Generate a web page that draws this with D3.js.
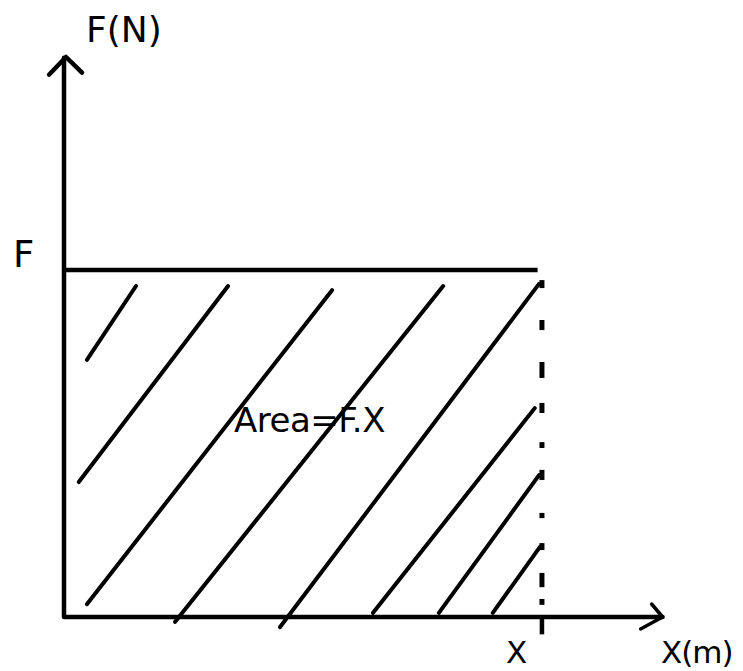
<!DOCTYPE html>
<html>
<head>
<meta charset="utf-8">
<script src="https://cdn.jsdelivr.net/npm/d3@7"></script>
<style>
  html, body { margin: 0; padding: 0; background: #fff; }
  text { font-family: "DejaVu Sans", sans-serif; fill: #000; }
</style>
</head>
<body>
<svg id="chart" width="743" height="671"></svg>
<script>
// Work-done diagram: constant force F over a displacement X.
// Units are chosen so that F = 1 and X = 1.
var forceValue = 1,
    displacement = 1;

// Hatch strokes inside the area, [x1, y1, x2, y2] in data units
var hatchX1 = [0.048, 0.031, 0.048, 0.233, 0.453, 0.648, 0.786, 0.899];
var hatchY1 = [0.741, 0.389, 0.037, -0.014, -0.029, 0.012, 0.012, 0.012];
var hatchX2 = [0.151, 0.344, 0.562, 0.795, 0.996, 0.987, 0.996, 0.998];
var hatchY2 = [0.954, 0.954, 0.942, 0.954, 0.960, 0.602, 0.409, 0.202];

// Dashes of the dotted line at x = X, [top, bottom] in data units
var dashTop = [0.971, 0.856, 0.735, 0.617, 0.504, 0.424, 0.300, 0.213, 0.127, 0.052];
var dashBottom = [0.948, 0.827, 0.689, 0.588, 0.487, 0.395, 0.285, 0.193, 0.086, 0.035];

var labels = { yAxis: 'F(N)', xAxis: 'X(m)', force: 'F', disp: 'X', area: 'Area=F.X' };

var svg = d3.select('#chart');

var x = d3.scaleLinear().domain([0, 1.258]).range([64, 664]),
    y = d3.scaleLinear().domain([0, 1.614]).range([617, 57]);

var hatch = hatchX1.map(function(v, i) {
  return { x1: v, y1: hatchY1[i], x2: hatchX2[i], y2: hatchY2[i] };
});
var dashes = dashTop.map(function(v, i) { return { top: v, bottom: dashBottom[i] }; });

// Hatch lines
svg.selectAll('line.hatch')
  .data(hatch)
  .enter().append('line')
  .attr('class', 'hatch')
  .attr('x1', function(d) { return x(d.x1); })
  .attr('y1', function(d) { return y(d.y1); })
  .attr('x2', function(d) { return x(d.x2); })
  .attr('y2', function(d) { return y(d.y2); })
  .attr('stroke', '#000')
  .attr('stroke-width', 4)
  .attr('stroke-linecap', 'round');

// Dotted vertical line at X
svg.selectAll('line.dash')
  .data(dashes)
  .enter().append('line')
  .attr('class', 'dash')
  .attr('x1', x(displacement) + 1)
  .attr('x2', x(displacement) + 1)
  .attr('y1', function(d) { return y(d.top); })
  .attr('y2', function(d) { return y(d.bottom); })
  .attr('stroke', '#000')
  .attr('stroke-width', 5);

// Tick below the axis at X
svg.append('line')
  .attr('x1', x(displacement) + 1).attr('x2', x(displacement) + 1)
  .attr('y1', y(0)).attr('y2', y(-0.05))
  .attr('stroke', '#000').attr('stroke-width', 4.5);

// Horizontal line at F
svg.append('line')
  .attr('x1', x(0)).attr('x2', x(0.993))
  .attr('y1', y(forceValue)).attr('y2', y(forceValue))
  .attr('stroke', '#000').attr('stroke-width', 4.5);

// Axes
var axes = svg.append('g')
  .attr('stroke', '#000')
  .attr('stroke-width', 4.5)
  .attr('fill', 'none')
  .attr('stroke-linecap', 'round')
  .attr('stroke-linejoin', 'round');

axes.append('path')
  .attr('d', 'M' + x(0) + ',' + y(1.612) + 'V' + y(0) + 'H' + x(1.255));

// y arrow head
axes.append('path')
  .attr('d', 'M' + (x(0) - 15) + ',' + (y(1.612) + 17) + 'L' + (x(0) + 2) + ',' + y(1.614) +
             'L' + (x(0) + 18) + ',' + (y(1.612) + 15));

// x arrow head
axes.append('path')
  .attr('d', 'M' + (x(1.23) + 1) + ',' + (y(0) - 13) + 'L' + x(1.255) + ',' + y(0) +
             'L' + (x(1.23) - 10) + ',' + (y(0) + 12))
  .attr('stroke-width', 3.5);

// Labels
svg.append('text').attr('x', 86).attr('y', 42)
  .style('font-size', '36px').text(labels.yAxis);

svg.append('text').attr('x', 13).attr('y', 267)
  .style('font-size', '37px').text(labels.force);

svg.append('text').attr('x', 234).attr('y', 432)
  .style('font-size', '34px').style('letter-spacing', '-0.5px').text(labels.area);

svg.append('text').attr('x', 506).attr('y', 663)
  .style('font-size', '31px').text(labels.disp);

svg.append('text').attr('x', 661).attr('y', 663)
  .style('font-size', '31px').style('letter-spacing', '-1px').text(labels.xAxis);
</script>
</body>
</html>
